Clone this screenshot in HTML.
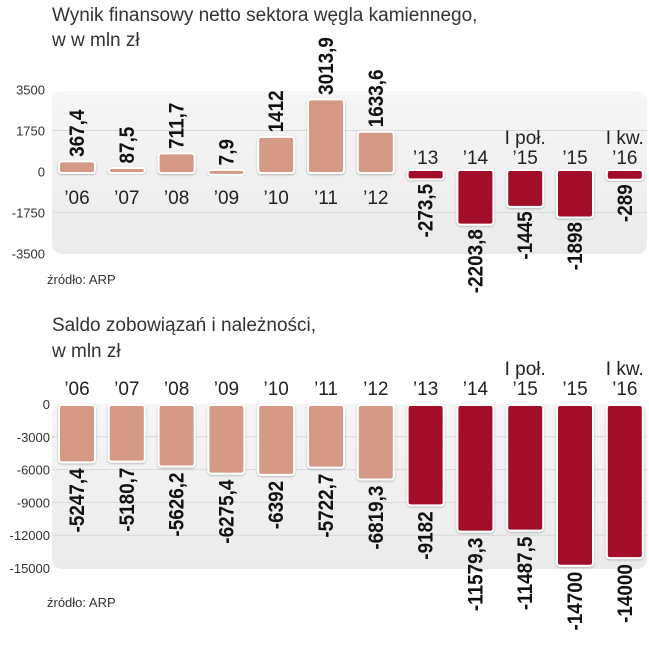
<!DOCTYPE html>
<html><head><meta charset="utf-8">
<style>
body{margin:0;background:#fff;width:649px;height:640px;overflow:hidden;font-family:"Liberation Sans",sans-serif;}
svg text{font-family:"Liberation Sans",sans-serif;}
.v{font-family:"Liberation Sans Narrow","Liberation Sans",sans-serif;font-weight:bold;font-size:21px;fill:#111;}
</style></head>
<body>
<svg id="c" width="649" height="640">
<defs>
<linearGradient id="pg" x1="0" y1="0" x2="0" y2="1"><stop offset="0" stop-color="#f6f6f6"/><stop offset="1" stop-color="#ebebeb"/></linearGradient>
<filter id="sh" x="-20%" y="-20%" width="140%" height="140%"><feDropShadow dx="0" dy="1" stdDeviation="1" flood-color="#000" flood-opacity="0.25"/></filter>
</defs>
<text x="52" y="21" font-size="19" fill="#333">Wynik finansowy netto sektora węgla kamiennego,</text>
<text x="52" y="46" font-size="19" fill="#333">w w mln zł</text>
<rect x="52" y="91" width="595" height="163" rx="10" fill="url(#pg)"/>
<text x="47" y="284" font-size="13" fill="#333">źródło: ARP</text>
<text x="52" y="331" font-size="19" fill="#333">Saldo zobowiązań i należności,</text>
<text x="52" y="357" font-size="19" fill="#333">w mln zł</text>
<rect x="52" y="404" width="595" height="165" rx="10" fill="url(#pg)"/>
<text x="47" y="607" font-size="13" fill="#333">źródło: ARP</text>
<g id="top"></g><g id="bot"></g>
</svg>
<script>
const periodLabels = ["’06","’07","’08","’09","’10","’11","’12","’13","’14","’15","’15","’16"];
const periodPrefix = ["","","","","","","","","","I poł.","","I kw."];
const netValues = [367.4,87.5,711.7,7.9,1412,3013.9,1633.6,-273.5,-2203.8,-1445,-1898,-289];
const netText = ["367,4","87,5","711,7","7,9","1412","3013,9","1633,6","-273,5","-2203,8","-1445","-1898","-289"];
const saldoValues = [-5247.4,-5180.7,-5626.2,-6275.4,-6392,-5722.7,-6819.3,-9182,-11579.3,-11487.5,-14700,-14000];
const saldoText = ["-5247,4","-5180,7","-5626,2","-6275,4","-6392","-5722,7","-6819,3","-9182","-11579,3","-11487,5","-14700","-14000"];
const topTicks = [3500,1750,0,-1750,-3500];
const topTickText = ["3500","1750","0","-1750","-3500"];
const botTicks = [0,-3000,-6000,-9000,-12000,-15000];
const botTickText = ["0","-3000","-6000","-9000","-12000","-15000"];

const NS="http://www.w3.org/2000/svg";
function el(tag,attrs,parent,txt){const e=document.createElementNS(NS,tag);for(const k in attrs)e.setAttribute(k,attrs[k]);if(txt!==undefined)e.textContent=txt;parent.appendChild(e);return e;}
const xC = i => 77 + i*49.8;
const BW = 36;
const yTop = v => 171.5 - v*(82/3500);
const yBot = v => 404 - v*(164/15000);
const SALMON="#d59a85", RED="#a20b2a";

const gt=document.getElementById('top');
topTicks.forEach((t,i)=>{
  if(t!==0 && Math.abs(t)!==3500){const ln=el('line',{x1:52,x2:647,y1:yTop(t),y2:yTop(t),stroke:'#d8d8d8'},gt);
  
  }
  const tx=el('text',{x:45,y:yTop(t)+5,'text-anchor':'end','font-size':13,fill:'#333'},gt,topTickText[i]);
  
  
});
netValues.forEach((v,i)=>{
  const x=xC(i);
  const y0=yTop(0), y1=yTop(v);
  let top=Math.min(y0,y1), h=Math.max(Math.abs(y1-y0),2);
  const r=el('rect',{x:x-BW/2,y:top-1.5,width:BW,height:h+3,rx:3,fill:v>=0?SALMON:RED,stroke:'#fff','stroke-width':2,filter:'url(#sh)'},gt);
  
  
  let ly,anchor;
  if(v>=0){ly=top-6;anchor='start';}else{ly=top+h+6;anchor='end';}
  const t=el('text',{class:'v',transform:`translate(${x+7},${ly}) rotate(-90) scale(0.9,1)`,'text-anchor':anchor},gt,netText[i]);
  
  
  const yy = v>=0 ? 204 : 164;
  const yl=el('text',{x:x,y:yy,'text-anchor':'middle','font-size':19,fill:'#222'},gt,periodLabels[i]);
  
  
  if(periodPrefix[i]){const p=el('text',{x:x,y:yy-20,'text-anchor':'middle','font-size':19,fill:'#222'},gt,periodPrefix[i]);
  
  }
});

const gb=document.getElementById('bot');
botTicks.forEach((t,i)=>{
  if(t!==0 && t!==-15000){const ln=el('line',{x1:52,x2:647,y1:yBot(t),y2:yBot(t),stroke:'#d8d8d8'},gb);
  
  }
  const tx=el('text',{x:50,y:yBot(t)+5,'text-anchor':'end','font-size':13,fill:'#333'},gb,botTickText[i]);
  
  
});
saldoValues.forEach((v,i)=>{
  const x=xC(i);
  const y0=yBot(0), y1=yBot(v);
  const r=el('rect',{x:x-BW/2,y:y0+1,width:BW,height:y1-y0,rx:3,fill:i<7?SALMON:RED,stroke:'#fff','stroke-width':2,filter:'url(#sh)'},gb);
  
  
  const t=el('text',{class:'v',transform:`translate(${x+7},${y1+7}) rotate(-90) scale(0.9,1)`,'text-anchor':'end'},gb,saldoText[i]);
  
  
  const yl=el('text',{x:x,y:395,'text-anchor':'middle','font-size':19,fill:'#222'},gb,periodLabels[i]);
  
  
  if(periodPrefix[i]){const p=el('text',{x:x,y:375,'text-anchor':'middle','font-size':19,fill:'#222'},gb,periodPrefix[i]);
  
  }
});
</script>
</body></html>
